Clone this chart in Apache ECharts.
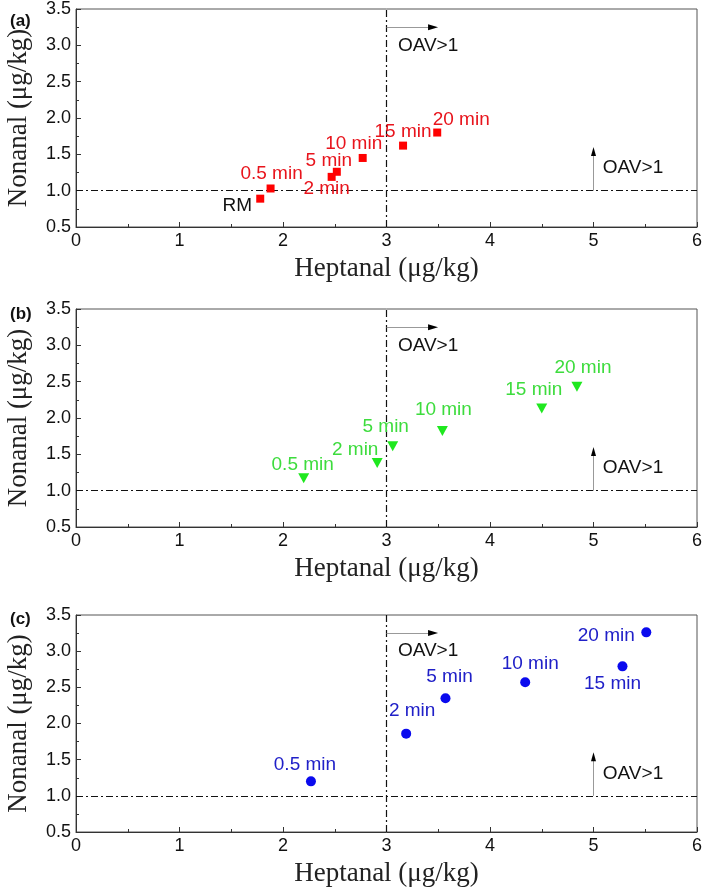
<!DOCTYPE html>
<html>
<head>
<meta charset="utf-8">
<script src="https://cdn.jsdelivr.net/npm/echarts@6/dist/echarts.min.js"></script>
<style>
html,body{margin:0;padding:0;background:#fff;}
#chart{width:705px;height:890px;}
</style>
</head>
<body>
<div id="chart"></div>
<script>
// ---- data ----
const panelLetters = ['(a)', '(b)', '(c)'];
const timesA = ['RM', '0.5 min', '2 min', '5 min', '10 min', '15 min', '20 min'];
const heptanalA = [1.78, 1.88, 2.47, 2.52, 2.77, 3.16, 3.49];
const nonanalA  = [0.89, 1.03, 1.19, 1.26, 1.45, 1.62, 1.80];
const timesBC = ['0.5 min', '2 min', '5 min', '10 min', '15 min', '20 min'];
const heptanalB = [2.20, 2.91, 3.06, 3.54, 4.50, 4.84];
const nonanalB  = [1.17, 1.38, 1.61, 1.82, 2.13, 2.43];
const heptanalC = [2.27, 3.19, 3.57, 4.34, 5.28, 5.51];
const nonanalC  = [1.20, 1.86, 2.35, 2.57, 2.79, 3.26];
const xTickValues = [0, 1, 2, 3, 4, 5, 6];
const yTickLabels = ['0.5', '1.0', '1.5', '2.0', '2.5', '3.0', '3.5'];
const heptanalThreshold = 3;   // OAV = 1 for heptanal
const nonanalThreshold = 1;    // OAV = 1 for nonanal
const oavText = 'OAV>1';
const xTitle = 'Heptanal (\u03bcg/kg)';
const yTitle = 'Nonanal (\u03bcg/kg)';

// ---- layout / styles (not data) ----
const labelOffsetsA = [[-23, 7], [1, -15], [-5, 12], [-8, -11], [-9, -14], [0, -14], [24, -13]];
const labelOffsetsB = [[-1, -14], [-22, -13], [-7, -20], [1, -21], [-8, -19], [6, -19]];
const labelOffsetsC = [[-6, -17], [6, -23], [4, -21], [5, -19], [-10, 17], [-40, 3]];
const grids = [
  {left: 76, right: 8, top: 9, height: 218},
  {left: 76, right: 8, top: 309, height: 218},
  {left: 76, right: 8, top: 615, height: 217}
];
const letterTops = [8, 301, 606];
const arrowH = {y: 3.25, x0: 3, x1: 3.45};
const arrowV = {x: 5, y0: 1, y1: 1.54};
const textH = [3.11, 3.0];
const textV = [5.09, 1.31];

const sans = '"Liberation Sans", Arial, sans-serif';
const serif = '"Liberation Serif", "Times New Roman", serif';

function xAxisCfg(i) {
  return {
    type: 'value', gridIndex: i, min: 0, max: 6, interval: 1,
    name: xTitle, nameLocation: 'middle', nameGap: 28,
    nameTextStyle: {fontFamily: serif, fontSize: 27, color: '#222'},
    axisLine: {onZero: false, lineStyle: {color: '#333', width: 1}},
    axisTick: {inside: true, length: 5, lineStyle: {color: '#333'}},
    minorTick: {show: true, splitNumber: 2, length: 3, lineStyle: {color: '#333'}},
    splitLine: {show: false},
    axisLabel: {fontFamily: sans, fontSize: 18, color: '#111', margin: 5,
      formatter: v => String(xTickValues[Math.round(v)])}
  };
}
function yAxisCfg(i) {
  return {
    type: 'value', gridIndex: i, min: 0.5, max: 3.5, interval: 0.5,
    name: yTitle, nameLocation: 'middle', nameGap: 44, nameRotate: 90,
    nameTextStyle: {fontFamily: serif, fontSize: 27, color: '#222'},
    axisLine: {onZero: false, lineStyle: {color: '#333', width: 1}},
    axisTick: {inside: true, length: 5, lineStyle: {color: '#333'}},
    minorTick: {show: true, splitNumber: 2, length: 3, lineStyle: {color: '#333'}},
    splitLine: {show: false},
    axisLabel: {fontFamily: sans, fontSize: 18, color: '#111', margin: 5,
      formatter: v => yTickLabels[Math.round((v - 0.5) / 0.5)]}
  };
}

const dashDot = {color: '#111', width: 1.2, type: [7, 3, 2, 3]};

function refLines() {
  return {
    silent: true, symbol: 'none', animation: false,
    label: {show: false},
    data: [
      {xAxis: heptanalThreshold, lineStyle: dashDot},
      {yAxis: nonanalThreshold, lineStyle: dashDot},
      [{coord: [arrowH.x0, arrowH.y], lineStyle: {color: '#999', width: 1, type: 'solid'}},
       {coord: [arrowH.x1, arrowH.y]}],
      [{coord: [arrowV.x, arrowV.y0], lineStyle: {color: '#999', width: 1, type: 'solid'}},
       {coord: [arrowV.x, arrowV.y1]}]
    ]
  };
}
function refPoints() {
  const txt = {show: true, formatter: oavText, position: 'right', distance: 0,
    fontFamily: sans, fontSize: 19, color: '#111'};
  return {
    silent: true, animation: false,
    data: [
      {coord: [arrowH.x1, arrowH.y], symbol: 'triangle', symbolSize: [6, 10], symbolRotate: -90,
       itemStyle: {color: '#000'}, label: {show: false}},
      {coord: [arrowV.x, arrowV.y1], symbol: 'triangle', symbolSize: [5, 9],
       itemStyle: {color: '#000'}, label: {show: false}},
      {coord: textH, symbol: 'circle', symbolSize: 0, label: txt},
      {coord: textV, symbol: 'circle', symbolSize: 0, label: txt}
    ]
  };
}

function makeData(names, xs, ys, offsets, labelColor, specialColor) {
  return names.map((n, k) => ({
    name: n, value: [xs[k], ys[k]],
    label: {offset: offsets[k], color: (specialColor && n === 'RM') ? specialColor : labelColor}
  }));
}

function series(i, names, xs, ys, offsets, symbol, size, rot, color, labelColor, special) {
  return {
    type: 'scatter', xAxisIndex: i, yAxisIndex: i,
    symbol: symbol, symbolSize: size, symbolRotate: rot,
    itemStyle: {color: color, opacity: 1},
    label: {show: true, position: 'inside', formatter: p => p.name,
      fontFamily: sans, fontSize: 19},
    data: makeData(names, xs, ys, offsets, labelColor, special),
    markLine: refLines(),
    markPoint: refPoints(),
    z: 5
  };
}

const chart = echarts.init(document.getElementById('chart'), null, {renderer: 'canvas'});
chart.setOption({
  animation: false,
  backgroundColor: '#fff',
  title: panelLetters.map((t, i) => ({
    text: t, left: 5, top: letterTops[i],
    textStyle: {fontFamily: sans, fontSize: 17, fontWeight: 'bold', color: '#111'}
  })),
  grid: grids.map(g => Object.assign({show: true, borderColor: '#555', borderWidth: 1,
    backgroundColor: 'transparent', containLabel: false, outerBoundsMode: 'none'}, g)),
  xAxis: [0, 1, 2].map(xAxisCfg),
  yAxis: [0, 1, 2].map(yAxisCfg),
  series: [
    series(0, timesA, heptanalA, nonanalA, labelOffsetsA, 'rect', 8, 0, '#ff0000', '#e8141c', '#111'),
    series(1, timesBC, heptanalB, nonanalB, labelOffsetsB, 'triangle', [11, 10], 180, '#1fe81f', '#3ddc3d'),
    series(2, timesBC, heptanalC, nonanalC, labelOffsetsC, 'circle', 10, 0, '#0a0aee', '#2020c8')
  ]
});
</script>
</body>
</html>
